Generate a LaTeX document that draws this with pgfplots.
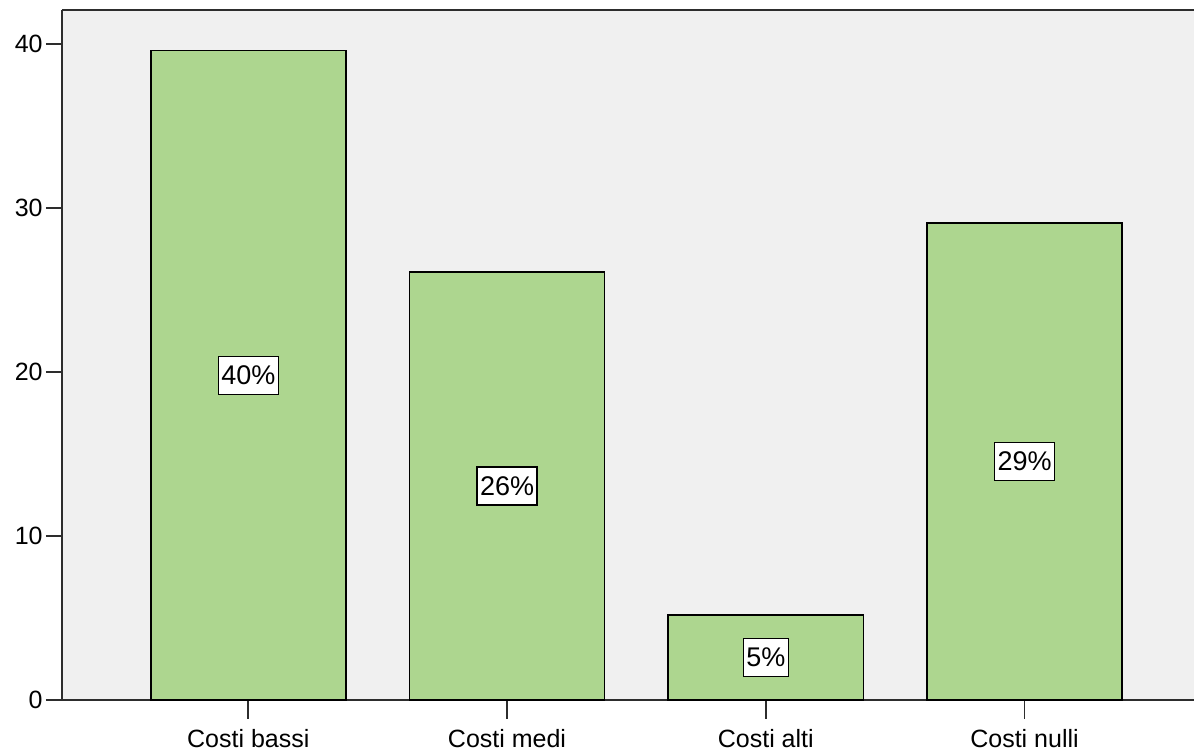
\documentclass[border=0pt]{standalone}
\usepackage{fontspec}
\setmainfont{Liberation Sans}
\usepackage{pgfplots}
\pgfplotsset{compat=1.18}
\usetikzlibrary{calc}

\definecolor{bggray}{RGB}{240,240,240}
\definecolor{barfill}{RGB}{173,214,143}
\definecolor{axiscol}{RGB}{45,45,45}

\begin{document}
\begin{tikzpicture}
\begin{axis}[
    scale only axis,
    width=566pt,
    height=345pt,
    xmin=-0.72, xmax=3.655,
    ymin=0, ymax=42.07,
    axis x line*=bottom,
    axis y line*=left,
    axis line style={axiscol, line width=0.8pt},
    axis background/.style={fill=bggray},
    tick align=outside,
    major tick length=8pt,
    tick style={axiscol, line width=0.8pt},
    xtick={0,1,2,3},
    xticklabels={Costi bassi,Costi medi,Costi alti,Costi nulli},
    xtick style={/pgfplots/major tick length=9.5pt},
    ytick={0,10,20,30,40},
    /pgf/number format/assume math mode=true,
    ticklabel style={font=\fontsize{12.5}{14}\selectfont},
    yticklabel style={inner sep=1.5pt},
    xticklabel style={inner sep=2pt, yshift=-4.5pt},
    clip=false,
]

% bar heights (percent of respondents)
\addplot[ybar, bar width=0.754, fill=barfill, draw=black, line width=0.8pt]
    coordinates {(0,39.6)(1,26.1)(2,5.2)(3,29.1)};

% percent labels placed at half the bar height
\addplot[draw=none, nodes near coords, point meta=explicit symbolic,
    every node near coord/.style={anchor=center, fill=white, draw=black,
        line width=0.7pt, inner xsep=1.5pt, inner ysep=0pt,
        minimum height=19pt, text depth=0pt,
        font=\fontsize{13.5}{15}\selectfont}]
    coordinates {(0,19.8)[40\%] (1,13.05)[26\%] (2,2.6)[5\%] (3,14.55)[29\%]};

\draw[axiscol, line width=0.8pt] (rel axis cs:0,1) -- (rel axis cs:1,1);
\end{axis}
\pgfresetboundingbox
\path[use as bounding box] ($(current axis.south west)+(-31pt,-27pt)$) rectangle ($(current axis.north east)+(0,5pt)$);
\end{tikzpicture}
\end{document}
